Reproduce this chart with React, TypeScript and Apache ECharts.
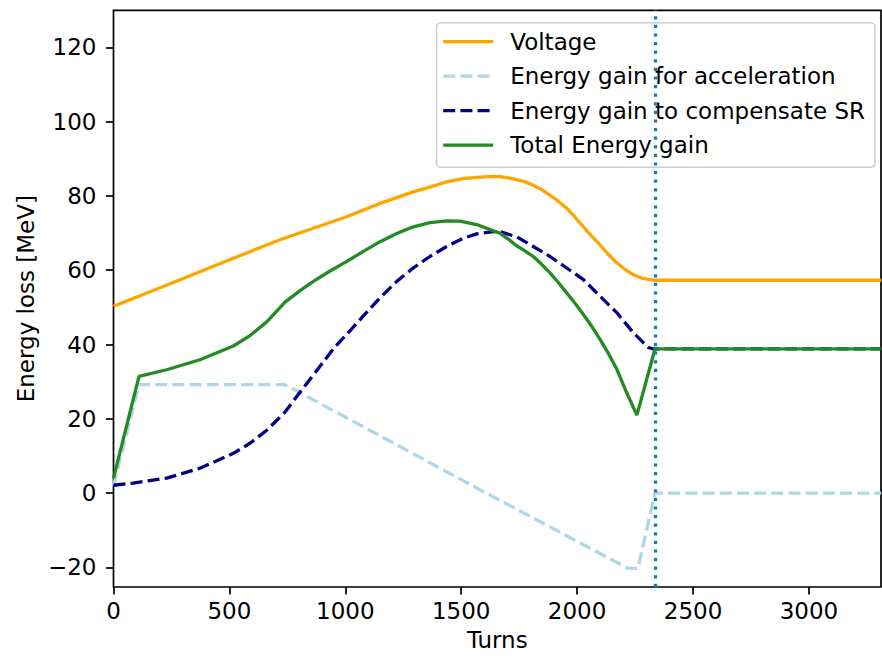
import React, { useEffect, useRef } from "react";
import * as echarts from "echarts";

const voltageTurns = [0, 250, 500, 718, 862, 1006, 1150, 1293, 1365, 1437, 1509, 1581, 1639, 1667, 1703, 1739, 1775, 1811, 1847, 1883, 1919, 1955, 1991, 2027, 2063, 2099, 2135, 2171, 2207, 2242, 2278, 2315, 2336, 3311];
const voltageValues = [50.3, 56.5, 62.8, 68.2, 71.3, 74.4, 78, 81.1, 82.4, 83.8, 84.7, 85.1, 85.3, 85.2, 84.9, 84.4, 83.8, 82.9, 81.7, 80.2, 78.6, 76.7, 74.3, 71.7, 69.2, 66.8, 64.3, 62, 60.2, 58.8, 57.9, 57.5, 57.3, 57.3];

const accelTurns = [0, 110, 740, 1581, 2220, 2262, 2336, 3311];
const accelValues = [2, 29.2, 29.2, 0.9, -20.3, -20.3, 0, 0];

const srTurns = [0, 85, 229, 373, 517, 589, 661, 740, 805, 877, 948, 1020, 1078, 1150, 1222, 1293, 1365, 1437, 1509, 1567, 1639, 1667, 1739, 1811, 1883, 1955, 2027, 2099, 2171, 2242, 2307, 2330, 3311];
const srValues = [2.1, 2.7, 4, 6.7, 10.7, 13.4, 16.9, 21.8, 27.2, 33, 38.8, 43.7, 47.7, 52.6, 57, 60.6, 63.7, 66.4, 68.6, 69.8, 70.4, 70.4, 69, 66.4, 63.7, 60.6, 57.5, 53, 48.6, 43.2, 39.2, 38.8, 38.8];

const totalTurns = [0, 110, 229, 373, 517, 589, 661, 740, 805, 862, 934, 1007, 1078, 1150, 1222, 1293, 1365, 1438, 1495, 1567, 1639, 1667, 1703, 1739, 1775, 1811, 1847, 1883, 1919, 1955, 1991, 2027, 2063, 2099, 2135, 2171, 2214, 2258, 2336, 3311];
const totalValues = [4, 31.4, 33.2, 35.9, 39.6, 42.4, 46.1, 51.4, 54.5, 57, 59.8, 62.4, 65.1, 67.7, 69.9, 71.7, 72.8, 73.3, 73.2, 72.3, 70.6, 70, 68.4, 66.6, 65.2, 63.7, 61.6, 59.3, 56.7, 53.9, 51.1, 48.1, 44.9, 41.4, 37.6, 33.4, 27, 21, 38.8, 38.8];

const xTicks = [0, 500, 1000, 1500, 2000, 2500, 3000];
const yTicks = [-20, 0, 20, 40, 60, 80, 100, 120];
const markerTurn = 2336;

const zip = (xs: number[], ys: number[]) => xs.map((x, i) => [x, ys[i]]);

const FONT = "DejaVu Sans";
const FS = 23;
const LW = 3.3;

export default function App() {
  const ref = useRef<HTMLDivElement>(null);
  useEffect(() => {
    if (!ref.current) return;
    const chart = echarts.init(ref.current, undefined, { renderer: "svg" });
    const tick = { show: true, length: 7.6, lineStyle: { color: "#000", width: 1.7 } };
    chart.setOption({
      animation: false,
      backgroundColor: "#fff",
      grid: { left: 113.5, right: 1, top: 10.3, bottom: 68, show: true, borderColor: "#000", borderWidth: 1.7, backgroundColor: "transparent" },
      xAxis: {
        type: "value",
        min: 0,
        max: 3311,
        name: "Turns",
        nameLocation: "middle",
        nameGap: 41,
        nameTextStyle: { fontFamily: FONT, fontSize: FS, color: "#000" },
        axisLine: { show: false, onZero: false },
        splitLine: { show: false },
        axisTick: { ...tick, customValues: xTicks },
        axisLabel: { customValues: xTicks, fontFamily: FONT, fontSize: FS, color: "#000", margin: 12, formatter: (v: number) => String(v) },
      },
      yAxis: {
        type: "value",
        min: -25.3,
        max: 130,
        name: "Energy loss [MeV]",
        nameLocation: "middle",
        nameGap: 75,
        nameTextStyle: { fontFamily: FONT, fontSize: FS, color: "#000" },
        axisLine: { show: false, onZero: false },
        splitLine: { show: false },
        axisTick: { ...tick, customValues: yTicks },
        axisLabel: {
          customValues: yTicks,
          fontFamily: FONT,
          fontSize: FS,
          color: "#000",
          margin: 17,
          formatter: (v: number) => (v < 0 ? "\u2212" + Math.abs(v) : String(v)),
        },
      },
      legend: {
        orient: "vertical",
        right: 7,
        top: 22.7,
        itemWidth: 50,
        itemHeight: 14,
        itemGap: 10.5,
        padding: [7, 10, 10, 5],
        backgroundColor: "rgba(255,255,255,0.8)",
        borderColor: "#cccccc",
        borderWidth: 1.5,
        borderRadius: 4.4,
        align: "left",
        itemStyle: { opacity: 0 },
        lineStyle: { width: LW },
        textStyle: { fontFamily: FONT, fontSize: FS, color: "#000", lineHeight: 24, padding: [0, 0, 0, 12] },
        data: ["Voltage", "Energy gain for acceleration", "Energy gain to compensate SR", "Total Energy gain"],
      },
      series: [
        {
          name: "Voltage",
          type: "line",
          data: zip(voltageTurns, voltageValues),
          symbol: "none",
          lineStyle: { color: "#ffa500", width: LW },
          itemStyle: { color: "#ffa500" },
          markLine: {
            silent: true,
            symbol: ["none", "none"],
            label: { show: false },
            lineStyle: { color: "#1f77b4", width: LW, type: [3.2, 5.4], cap: "butt" },
            data: [{ xAxis: markerTurn }],
          },
        },
        {
          name: "Energy gain for acceleration",
          type: "line",
          data: zip(accelTurns, accelValues),
          symbol: "none",
          lineStyle: { color: "#add8e6", width: LW, type: [12, 5.2] },
          itemStyle: { color: "#add8e6" },
        },
        {
          name: "Energy gain to compensate SR",
          type: "line",
          data: zip(srTurns, srValues),
          symbol: "none",
          lineStyle: { color: "#00008b", width: LW, type: [12, 5.2] },
          itemStyle: { color: "#00008b" },
        },
        {
          name: "Total Energy gain",
          type: "line",
          data: zip(totalTurns, totalValues),
          symbol: "none",
          lineStyle: { color: "#228b22", width: LW },
          itemStyle: { color: "#228b22" },
        },
      ],
    });
    return () => chart.dispose();
  }, []);
  return <div ref={ref} style={{ position: "absolute", left: 0, top: 0, width: 882, height: 656 }} />;
}
